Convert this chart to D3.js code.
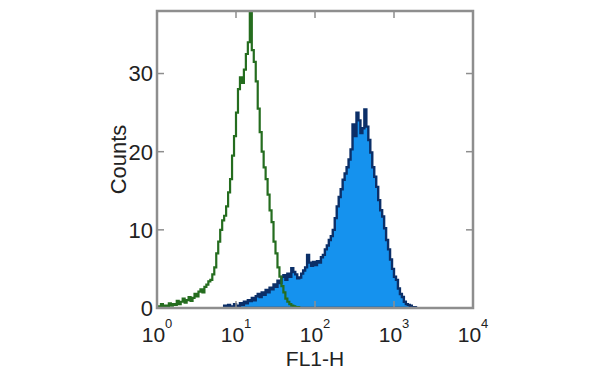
<!DOCTYPE html>
<meta charset="utf-8">
<style>
  body { margin: 0; background: #fff; }
  text { font-family: "Liberation Sans", Arial, sans-serif; fill: #222; }
</style>
<svg width="600" height="374"></svg>
<script src="https://cdnjs.cloudflare.com/ajax/libs/d3/7.8.5/d3.min.js"></script>
<script>

// log10 decades on FL1-H axis and count ticks
var decades = [0, 1, 2, 3, 4];
var countTicks = [0, 10, 20, 30];

// histogram bins: width in log10 units, first bin's left edge
var binWidth = 0.025;

// control (green outline)
var greenStart = 0;
var greenCounts = [
  0, 0.2, 0.5, 0.2, 0.3, 0.2, 0.6, 0.3, 0.5, 0.4,
  0.9, 0.5, 0.8, 1.2, 0.7, 1.0, 1.4, 0.9, 1.3, 1.8,
  1.5, 2.1, 2.4, 2.0, 2.7, 3.0, 3.4, 3.6, 4.3, 5.2,
  7.0, 8.5, 10.0, 11.2, 11.8, 13.0, 14.8, 16.5, 19.5, 22.0,
  25.0, 28.0, 29.5, 28.8, 30.5, 32.5, 34.0, 38.0, 33.0, 31.5,
  29.0, 25.5, 22.5, 20.0, 18.0, 16.5, 14.5, 12.5, 11.0, 8.5,
  7.0, 5.2, 4.0, 2.8, 2.0, 1.2, 0.8, 0.5, 0.3, 0.2,
  0.1, 0.1, 0
];

// stained sample (blue filled)
var blueStart = 0.85;
var blueCounts = [
  0.3, 0, 0.4, 0, 0.2, 0.5, 0.3, 0.2, 0.6, 0.4,
  0.8, 0.6, 1.0, 0.9, 1.3, 1.0, 1.5, 1.8, 1.4, 2.0,
  1.7, 2.3, 2.0, 2.6, 2.4, 3.0, 2.7, 3.5, 3.2, 4.0,
  4.2, 3.6, 4.4, 4.0, 5.1, 4.6, 4.3, 3.8, 3.9, 4.4,
  4.8, 5.2, 6.8, 5.8, 5.4, 5.9, 5.5, 6.0, 5.8, 6.5,
  6.8, 7.5, 8.0, 8.7, 9.2, 10.0, 11.5, 13.0, 14.2, 15.2,
  16.4, 17.2, 18.0, 19.0, 20.3, 23.5, 22.0, 25.0, 24.0, 22.4,
  23.0, 25.4, 23.2, 21.5, 19.9, 18.0, 16.8, 15.5, 13.8, 12.5,
  11.7, 10.2, 8.7, 7.5, 6.2, 5.0, 4.0, 3.6, 2.5, 1.8,
  1.4, 0.8, 0.5, 0.4, 0.3, 0.1, 0.1, 0
];

var svg = d3.select("svg"),
    margin = {top: 11, right: 127, bottom: 66, left: 157},
    width = +svg.attr("width") - margin.left - margin.right,
    height = +svg.attr("height") - margin.top - margin.bottom,
    g = svg.append("g").attr("transform", "translate(" + margin.left + "," + margin.top + ")");

var x = d3.scaleLog()
    .domain([1, 1e4])
    .range([0, width]);

var y = d3.scaleLinear()
    .domain([0, 38])
    .range([height, 0]);

function toPoints(start, counts) {
  var pts = counts.map(function(c, i) { return [start + i * binWidth, c]; });
  pts.push([start + counts.length * binWidth, counts[counts.length - 1]]);
  return pts;
}

g.append("defs").append("clipPath").attr("id", "clip")
  .append("rect").attr("width", width).attr("height", height);

var plot = g.append("g").attr("clip-path", "url(#clip)");

var area = d3.area()
    .curve(d3.curveStepAfter)
    .x(function(d) { return x(Math.pow(10, d[0])); })
    .y0(height)
    .y1(function(d) { return y(d[1]); });

var line = d3.line()
    .curve(d3.curveStepAfter)
    .x(function(d) { return x(Math.pow(10, d[0])); })
    .y(function(d) { return y(d[1]); });

plot.append("path")
    .datum(toPoints(blueStart, blueCounts))
    .attr("fill", "#1592ee")
    .attr("stroke", "#0b2f68")
    .attr("stroke-width", 2.4)
    .attr("d", area);

plot.append("path")
    .datum(toPoints(greenStart, greenCounts))
    .attr("fill", "none")
    .attr("stroke", "#256d1f")
    .attr("stroke-width", 2.2)
    .attr("d", line);

// frame
var frameColor = "#8e8e8e";
g.append("rect")
    .attr("width", width)
    .attr("height", height)
    .attr("fill", "none")
    .attr("stroke", frameColor)
    .attr("stroke-width", 2.5);

// inward ticks
var tickLen = 7;
countTicks.slice(1).forEach(function(t) {
  g.append("line").attr("x1", 0).attr("x2", tickLen).attr("y1", y(t)).attr("y2", y(t))
    .attr("stroke", frameColor).attr("stroke-width", 1.5);
  g.append("line").attr("x1", width).attr("x2", width - tickLen).attr("y1", y(t)).attr("y2", y(t))
    .attr("stroke", frameColor).attr("stroke-width", 1.5);
});
decades.slice(1, -1).forEach(function(dd) {
  var xp = x(Math.pow(10, dd));
  g.append("line").attr("x1", xp).attr("x2", xp).attr("y1", 0).attr("y2", tickLen)
    .attr("stroke", frameColor).attr("stroke-width", 1.5);
  g.append("line").attr("x1", xp).attr("x2", xp).attr("y1", height).attr("y2", height - tickLen)
    .attr("stroke", frameColor).attr("stroke-width", 1.5);
});

// y tick labels
g.selectAll(".ylab")
  .data(countTicks)
  .enter().append("text")
    .attr("class", "ylab")
    .attr("x", -4)
    .attr("y", function(d) { return y(d); })
    .attr("dy", "0.36em")
    .attr("text-anchor", "end")
    .style("font-size", "22px")
    .text(function(d) { return d; });

// x tick labels: 10^n
var xl = g.selectAll(".xlab")
  .data(decades)
  .enter().append("text")
    .attr("class", "xlab")
    .attr("x", function(d) { return x(Math.pow(10, d)); })
    .attr("y", height + 34)
    .attr("text-anchor", "middle")
    .style("font-size", "21px");
xl.append("tspan").text("10");
xl.append("tspan")
    .attr("dy", -14)
    .style("font-size", "13px")
    .text(function(d) { return d; });

g.append("text")
    .attr("x", width / 2)
    .attr("y", height + 58)
    .attr("text-anchor", "middle")
    .style("font-size", "21px")
    .text("FL1-H");

g.append("text")
    .attr("transform", "translate(-31," + (height / 2) + ")rotate(-90)")
    .attr("text-anchor", "middle")
    .style("font-size", "22px")
    .text("Counts");

</script>
